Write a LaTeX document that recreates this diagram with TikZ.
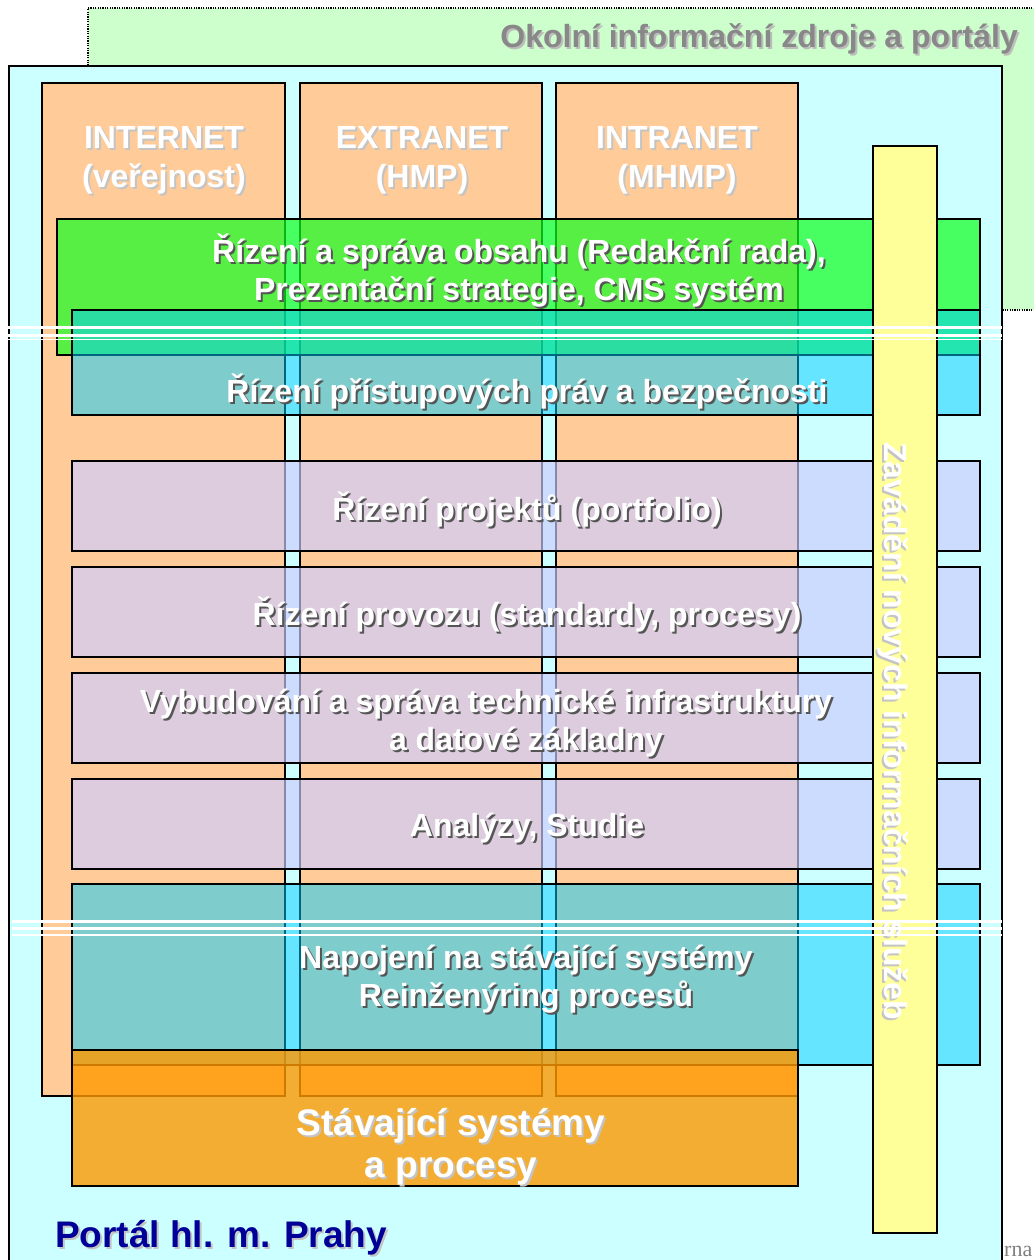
\documentclass[tikz,border=0pt]{standalone}
\usepackage{fontspec}
\setmainfont{Liberation Sans}
\newfontfamily\serifrm{Liberation Serif}
\usetikzlibrary{fit}
\definecolor{outergreen}{HTML}{CCFFCC}
\definecolor{maincyan}{HTML}{CCFFFF}
\definecolor{peach}{HTML}{FFCC99}
\definecolor{baryellow}{HTML}{FFFF99}
\definecolor{cmsgreen}{HTML}{10FF20}
\definecolor{tealbox}{HTML}{00CCFF}
\definecolor{lavbox}{HTML}{CCCCFF}
\definecolor{orangebox}{HTML}{FF9900}
\definecolor{okolgray}{HTML}{888888}
\definecolor{okolshadow}{HTML}{BDBDBD}
\definecolor{navy}{HTML}{000099}
\definecolor{shdark}{HTML}{555555}
\definecolor{shlight}{HTML}{C4C4C4}
\newcommand{\twol}[2]{\begin{tabular}[t]{@{}c@{}}#1\\#2\end{tabular}}
\newcommand{\shtxt}[5]{%
  \node[#2, text=#3, xshift=2pt, yshift=-2pt] (#1s) at (#4) {#5};
  \node[#2] (#1) at (#4) {#5};}
\begin{document}
\begin{tikzpicture}[x=1pt,y=-1pt,
  panel/.style={draw=black, line width=2pt, inner sep=0pt, outer sep=0pt},
  layer/.style={panel, fill opacity=#1},
  lbl/.style={inner sep=0pt, anchor=base, text=white, font=\fontsize{32}{38.4}\selectfont\bfseries},
  biglbl/.style={lbl, font=\fontsize{37}{42}\selectfont\bfseries},
  brk/.style={draw=white}
]
\useasboundingbox (0,0) rectangle (1033,1260);
% surrounding sources
\node[draw=black, line width=1.2pt, dash pattern=on 1.2pt off 1.2pt, fill=outergreen, inner sep=0pt, fit={(88,8) (1080,310)}] (outer) {};
\node[inner sep=0pt, anchor=base west, text=gray, font=\serifrm\fontsize{22}{24}\selectfont] (foot) at (1004,1256) {rna};
% portal
\node[panel, fill=maincyan, fit={(9,66) (1002,1320)}] (portal) {};
% columns
\node[panel, fill=peach, fit={(42,83) (285,1096)}] (internet) {};
\node[panel, fill=peach, fit={(300,83) (542,1096)}] (extranet) {};
\node[panel, fill=peach, fit={(556,83) (798,1096)}] (intranet) {};
% layers
\node[layer=0.7, fill=cmsgreen, fit={(57,219) (980,355)}] (cms) {};
\node[layer=0.5, fill=tealbox, fit={(72,310) (980,415)}] (access) {};
\node[layer=0.67, fill=lavbox, fit={(72,461) (980,551)}] (proj) {};
\node[layer=0.67, fill=lavbox, fit={(72,567) (980,657)}] (provoz) {};
\node[layer=0.67, fill=lavbox, fit={(72,673) (980,763)}] (infra) {};
\node[layer=0.67, fill=lavbox, fit={(72,779) (980,869)}] (anal) {};
\node[layer=0.5, fill=tealbox, fit={(72,884) (980,1065)}] (napoj) {};
\node[layer=0.8, fill=orangebox, fit={(72,1050) (798,1186)}] (stav) {};
\node[panel, fill=baryellow, fit={(873,146) (937,1233)}] (zav) {};
% texts
\shtxt{tokol}{lbl, anchor=base east, text=okolgray}{okolshadow}{1018,48}{Okolní informační zdroje a portály}
\shtxt{tint}{lbl}{shlight}{164,149}{\twol{INTERNET}{(veřejnost)}}
\shtxt{text}{lbl}{shlight}{422,149}{\twol{EXTRANET}{(HMP)}}
\shtxt{tintra}{lbl}{shlight}{677,149}{\twol{INTRANET}{(MHMP)}}
\shtxt{tcms}{lbl}{shdark}{519,262}{\twol{Řízení a správa obsahu (Redakční rada),}{Prezentační strategie, CMS systém}}
\shtxt{tacc}{lbl}{shdark}{527,402}{Řízení přístupových práv a bezpečnosti}
\shtxt{tproj}{lbl}{shdark}{527,520}{Řízení projektů (portfolio)}
\shtxt{tprov}{lbl}{shdark}{527,625}{Řízení provozu (standardy, procesy)}
\shtxt{tinfra}{lbl}{shdark}{526,712}{\twol{Vybudování a správa technické infrastruktury\hspace*{80pt}}{a datové základny}}
\shtxt{tanal}{lbl}{shdark}{527,836}{Analýzy, Studie}
\shtxt{tnapoj}{lbl}{shdark}{526,968}{\twol{Napojení na stávající systémy}{Reinženýring procesů}}
\shtxt{tstav}{biglbl}{shlight}{451,1135}{\twol{Stávající systémy}{a procesy}}
\shtxt{tzav}{lbl, anchor=base west, rotate=-90}{shlight}{884,442}{Zavádění nových informačních služeb}
\shtxt{tport}{biglbl, anchor=base west, text=navy}{shlight}{55,1247}{Portál hl. m. Prahy}
% break marks
\draw[brk, line width=3pt] (8,327.5) -- (1002,327.5);
\draw[brk, line width=2.5pt] (8,335.5) -- (1002,335.5);
\draw[brk, line width=1.5pt] (8,339.7) -- (1002,339.7);
\draw[brk, line width=3pt] (12,921.5) -- (1002,921.5);
\draw[brk, line width=3pt] (12,928.5) -- (1002,928.5);
\draw[brk, line width=2pt] (12,935) -- (1002,935);
\end{tikzpicture}
\end{document}
